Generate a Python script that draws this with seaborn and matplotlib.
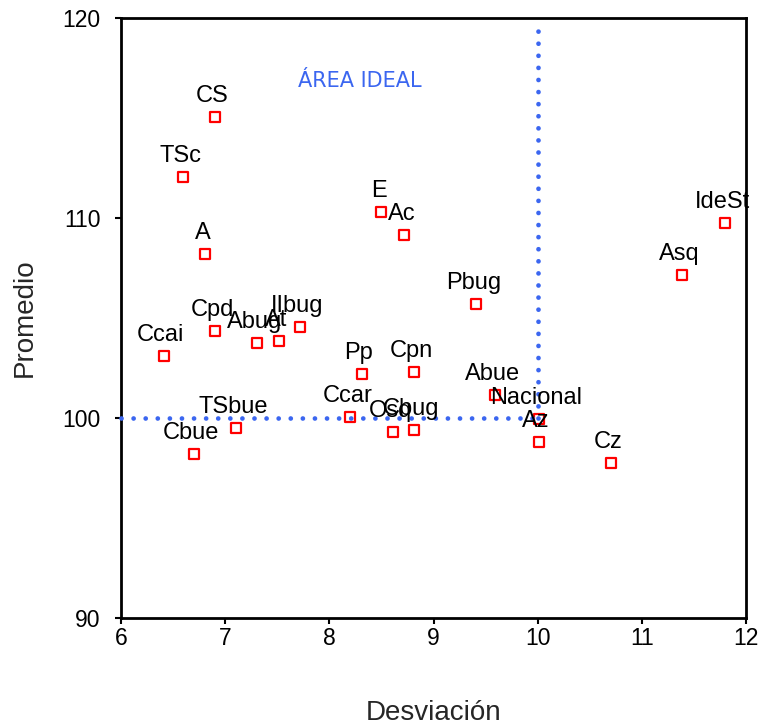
import matplotlib
matplotlib.use("Agg")
import matplotlib.pyplot as plt
import seaborn as sns
import pandas as pd

# Labels, desviacion (x) and promedio (y)
labels = ["CS", "TSc", "A", "Ccai", "Cpd", "Abug", "At", "IIbug", "TSbue", "Cbue",
          "E", "Ac", "Pbug", "Pp", "Cpn", "Ccar", "Osq", "Cbug", "Abue", "Nacional",
          "Az", "Cz", "Asq", "IdeSt"]
desviacion = [6.90, 6.60, 6.81, 6.41, 6.90, 7.31, 7.52, 7.72, 7.10, 6.70,
              8.50, 8.72, 9.41, 8.31, 8.81, 8.20, 8.61, 8.81, 9.59, 10.01,
              10.01, 10.70, 11.39, 11.80]
promedio = [115.05, 112.05, 108.2, 103.1, 104.35, 103.75, 103.85, 104.55, 99.5, 98.2,
            110.3, 109.15, 105.7, 102.2, 102.3, 100.05, 99.3, 99.4, 101.15, 99.95,
            98.8, 97.75, 107.15, 109.75]

# reference lines of the "ideal area"
ref_x = 10.0
ref_y = 100.0

df = pd.DataFrame({"label": labels, "Desviación": desviacion, "Promedio": promedio})

sns.set_style("white")
plt.rcParams["font.family"] = ["Liberation Sans", "DejaVu Sans"]

fig = plt.figure(figsize=(7.58, 7.26), dpi=100)
ax = fig.add_axes([0.1596, 0.1488, 0.8246, 0.8264])

sns.scatterplot(data=df, x="Desviación", y="Promedio", ax=ax, marker="s", s=45,
                facecolor="white", edgecolor="#ff0000", linewidth=1.6, zorder=3)

# dotted guides
dots = (0, (0.01, 2.55))
ax.plot([6, ref_x], [ref_y, ref_y], color="#3b66f0", linestyle=dots,
        linewidth=3.4, dash_capstyle="round", zorder=4, clip_on=False)
ax.plot([ref_x, ref_x], [ref_y, 119.4], color="#3b66f0", linestyle=dots,
        linewidth=3.4, dash_capstyle="round", zorder=4)

for lab, xv, yv in zip(labels, desviacion, promedio):
    ax.annotate(lab, (xv, yv), xytext=(-2, 7), textcoords="offset points",
                ha="center", va="bottom", fontsize=17, color="black", zorder=5,
                annotation_clip=False)

ax.text(8.29, 116.85, "ÁREA IDEAL", color="#3b66f0", fontsize=15,
        family="DejaVu Sans", ha="center", va="center")

ax.set_xlim(6, 12)
ax.set_ylim(90, 120)
ax.set_xticks([6, 7, 8, 9, 10, 11, 12])
ax.set_yticks([90, 100, 110, 120])
ax.tick_params(axis="both", direction="out", length=4.5, width=1.5, labelsize=16.5,
               bottom=True, left=True, colors="black")
ax.tick_params(axis="y", pad=10)
ax.tick_params(axis="x", pad=2)
for sp in ax.spines.values():
    sp.set_linewidth(2)
    sp.set_color("black")

ax.set_xlabel("Desviación", fontsize=20, labelpad=36)
ax.set_ylabel("Promedio", fontsize=20, labelpad=18)

fig.savefig("out.png", dpi=100)
